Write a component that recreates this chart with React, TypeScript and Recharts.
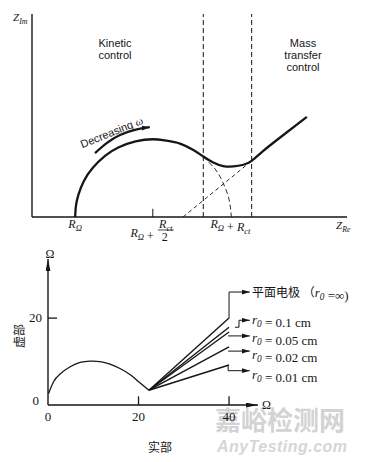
import { LineChart, Line, XAxis, YAxis, ReferenceLine } from "recharts";

// ---- upper plot: Nyquist plot of a Randles cell (arbitrary units)
const kineticCurve = [
  { x: 10, y: 0 }, { x: 10.2, y: 2.7 }, { x: 10.8, y: 5.3 }, { x: 12, y: 8.3 },
  { x: 14, y: 11.3 }, { x: 17, y: 14.2 }, { x: 20, y: 16.1 }, { x: 24, y: 17.5 },
  { x: 28, y: 18 }, { x: 31, y: 17.7 }, { x: 34.3, y: 17.0 }, { x: 37.4, y: 15.5 },
  { x: 39.7, y: 14.0 }, { x: 42, y: 12.6 }, { x: 44.3, y: 11.8 }, { x: 46.7, y: 11.7 },
  { x: 49, y: 12.1 }, { x: 50.9, y: 13.0 }, { x: 53.6, y: 15.3 }, { x: 57.5, y: 18.4 },
  { x: 63.7, y: 23.2 },
];
const circleTail = [
  { x: 39.7, y: 14.0 }, { x: 42, y: 11.6 }, { x: 43.6, y: 9.3 }, { x: 45.5, y: 4.7 }, { x: 46.2, y: 0 },
];
const warburgGuide = [{ x: 35, y: 0 }, { x: 50.9, y: 13.0 }];
const omegaArrow = [
  { x: 14.6, y: 14.8 }, { x: 17.3, y: 17.1 }, { x: 20.4, y: 19.0 }, { x: 24.3, y: 20.3 }, { x: 27.3, y: 20.8 },
];
const regionBounds = [39.7, 50.9];
const R_OHM = 10;
const R_CT = 36;
const topTicks = [R_OHM, R_OHM + R_CT / 2, R_OHM + R_CT];

// ---- lower plot: effect of electrode radius
const arcCurve = [
  { x: 0.1, y: 2.6 }, { x: 1.2, y: 5.3 }, { x: 2.6, y: 7.1 }, { x: 4.9, y: 8.8 },
  { x: 7.1, y: 9.8 }, { x: 9.3, y: 10.1 }, { x: 11.5, y: 10.0 }, { x: 13.7, y: 9.4 },
  { x: 15.9, y: 8.4 }, { x: 18.1, y: 7.0 }, { x: 20.3, y: 5.1 }, { x: 22.3, y: 3.4 },
];
const cusp = { x: 22.3, y: 3.4 };
const radii = ["∞", "0.1 cm", "0.05 cm", "0.02 cm", "0.01 cm"];
const lineEnds = [20.0, 17.9, 16.8, 13.4, 9.2];
const lowerTicks = [0, 20, 40];

const serif = "'Liberation Serif', 'DejaVu Serif', serif";
const sans = "'Liberation Sans', Arial, sans-serif";
const cjk = "'Noto Sans CJK SC', sans-serif";
const ink = "#161616";

const Defs = () => (
  <defs>
    <marker id="headS" viewBox="0 0 10 6" refX="10" refY="3" markerWidth="8" markerHeight="5"
      markerUnits="userSpaceOnUse" orient="auto">
      <path d="M0,0 L10,3 L0,6 z" fill={ink} />
    </marker>
    <marker id="headL" viewBox="0 0 10 4" refX="10" refY="2" markerWidth="12" markerHeight="5"
      markerUnits="userSpaceOnUse" orient="auto">
      <path d="M0,0 L10,2 L0,4 z" fill={ink} />
    </marker>
  </defs>
);

const Sub = ({ base, sub, size = 12 }: { base: string; sub: string; size?: number }) => (
  <>
    <tspan fontStyle="italic">{base}</tspan>
    <tspan fontStyle="italic" fontSize={size * 0.72} dy={3}>{sub}</tspan>
    <tspan dy={-3}></tspan>
  </>
);

function TopTick({ x, y, payload }: any) {
  const v = payload.value;
  const ty = y + 11;
  if (v === R_OHM)
    return (
      <text x={x} y={ty} textAnchor="middle" fontFamily={serif} fontSize={12} fill={ink}>
        <Sub base="R" sub="Ω" />
      </text>
    );
  if (v === R_OHM + R_CT)
    return (
      <text x={x} y={ty} textAnchor="middle" fontFamily={serif} fontSize={12} fill={ink}>
        <Sub base="R" sub="Ω" /> + <Sub base="R" sub="ct" />
      </text>
    );
  return (
    <g fontFamily={serif} fontSize={12} fill={ink}>
      <text x={x + 1} y={ty + 9} textAnchor="end">
        <Sub base="R" sub="Ω" /> +
      </text>
      <text x={x + 13} y={ty} textAnchor="middle">
        <Sub base="R" sub="ct" />
      </text>
      <line x1={x + 5} x2={x + 21} y1={ty + 2} y2={ty + 2} stroke={ink} strokeWidth={0.8} />
      <text x={x + 12} y={ty + 13} textAnchor="middle">2</text>
    </g>
  );
}

function LowerXTick({ x, y, payload }: any) {
  return (
    <text x={x} y={y + 16} textAnchor="middle" fontFamily={serif} fontSize={13} fill={ink}>
      {payload.value}
    </text>
  );
}

function LowerYTick({ x, y, payload }: any) {
  const v = payload.value;
  return (
    <text x={x - (v === 0 ? 9 : 6)} y={y + (v === 0 ? 0 : 4)} textAnchor="end"
      fontFamily={serif} fontSize={13} fill={ink}>
      {v}
    </text>
  );
}

function UpperPlot() {
  return (
    <LineChart width={365} height={250} margin={{ top: 14, right: 18, bottom: 32, left: 31 }}>
      <Defs />
      <XAxis type="number" dataKey="x" domain={[0, 73]} ticks={topTicks} tick={<TopTick />}
        tickLine={false} tickSize={0} tickMargin={0} height={1}
        axisLine={{ stroke: ink, strokeWidth: 1.4 }} allowDataOverflow />
      <YAxis type="number" dataKey="y" domain={[0, 47]} tick={false} tickLine={false} width={1}
        axisLine={{ stroke: ink, strokeWidth: 1.4 }} allowDataOverflow />
      {regionBounds.map((b) => (
        <ReferenceLine key={b} x={b} stroke={ink} strokeWidth={1} strokeDasharray="5 3" />
      ))}
      <ReferenceLine segment={[{ x: R_OHM + R_CT / 2, y: 0 }, { x: R_OHM + R_CT / 2, y: 1.9 }]}
        stroke={ink} strokeWidth={1} />
      <Line data={warburgGuide} dataKey="y" type="linear" stroke={ink} strokeWidth={0.9}
        strokeDasharray="4 3" dot={false} isAnimationActive={false} />
      <Line data={circleTail} dataKey="y" type="natural" stroke={ink} strokeWidth={0.9}
        strokeDasharray="5 3" dot={false} isAnimationActive={false} />
      <Line data={kineticCurve} dataKey="y" type="natural" stroke={ink} strokeWidth={2.3}
        dot={false} isAnimationActive={false} />
      <Line data={omegaArrow} dataKey="y" type="natural" stroke={ink} strokeWidth={2.2}
        dot={false} markerEnd="url(#headS)" isAnimationActive={false} />
    </LineChart>
  );
}

function LowerPlot() {
  return (
    <LineChart width={365} height={214} margin={{ top: 11, right: 107, bottom: 56, left: 47 }}>
      <Defs />
      <XAxis type="number" dataKey="x" domain={[0, 46.4]} ticks={lowerTicks} tick={<LowerXTick />}
        tickLine={false} tickSize={0} tickMargin={0} height={1} axisLine={false} allowDataOverflow />
      <YAxis type="number" dataKey="y" domain={[0, 33.6]} ticks={[0, 20]} tick={<LowerYTick />}
        tickLine={false} tickSize={0} tickMargin={0} width={1} axisLine={false} allowDataOverflow />
      <ReferenceLine segment={[{ x: 0, y: 0 }, { x: 46.4, y: 0 }]} stroke={ink} strokeWidth={1.4}
        markerEnd="url(#headL)" />
      <ReferenceLine segment={[{ x: 0, y: 0 }, { x: 0, y: 33.6 }]} stroke={ink} strokeWidth={1.4}
        markerEnd="url(#headL)" />
      <ReferenceLine segment={[{ x: 0, y: 20 }, { x: 2, y: 20 }]} stroke={ink} strokeWidth={1.3} />
      <ReferenceLine segment={[{ x: 20, y: 0 }, { x: 20, y: 2 }]} stroke={ink} strokeWidth={1.3} />
      <ReferenceLine segment={[{ x: 40, y: 0 }, { x: 40, y: 2 }]} stroke={ink} strokeWidth={1.3} />
      <Line data={arcCurve} dataKey="y" type="natural" stroke={ink} strokeWidth={1.3}
        dot={false} isAnimationActive={false} />
      {lineEnds.map((v, i) => (
        <Line key={radii[i]} data={[cusp, { x: 40, y: v }]} dataKey="y" type="linear" stroke={ink}
          strokeWidth={1.4} dot={false} isAnimationActive={false} />
      ))}
      {/* leader arrows to the labels */}
      <ReferenceLine segment={[{ x: 40, y: 20 }, { x: 40, y: 26 }]} stroke={ink} strokeWidth={1} />
      <ReferenceLine segment={[{ x: 40, y: 26 }, { x: 44.6, y: 26 }]} stroke={ink} strokeWidth={1}
        markerEnd="url(#headS)" />
      <ReferenceLine segment={[{ x: 41.3, y: 17.9 }, { x: 42.2, y: 17.9 }]} stroke={ink} strokeWidth={1} />
      <ReferenceLine segment={[{ x: 42.2, y: 17.9 }, { x: 42.2, y: 19.5 }]} stroke={ink} strokeWidth={1} />
      <ReferenceLine segment={[{ x: 42.2, y: 19.5 }, { x: 44.6, y: 19.5 }]} stroke={ink} strokeWidth={1}
        markerEnd="url(#headS)" />
      <ReferenceLine segment={[{ x: 39.8, y: 15.9 }, { x: 44.6, y: 15.9 }]} stroke={ink} strokeWidth={1}
        markerEnd="url(#headS)" />
      <ReferenceLine segment={[{ x: 39.8, y: 12.4 }, { x: 44.6, y: 12.4 }]} stroke={ink} strokeWidth={1}
        markerEnd="url(#headS)" />
      <ReferenceLine segment={[{ x: 39.8, y: 9.2 }, { x: 39.8, y: 7.9 }]} stroke={ink} strokeWidth={1} />
      <ReferenceLine segment={[{ x: 39.8, y: 7.9 }, { x: 44.6, y: 7.9 }]} stroke={ink} strokeWidth={1}
        markerEnd="url(#headS)" />
    </LineChart>
  );
}

const labelRows = [296.5, 323.5, 342, 359, 379];

export default function App() {
  return (
    <div style={{ position: "absolute", left: 0, top: 0, width: 365, height: 462, background: "#fff" }}>
      <svg width={365} height={462} style={{ position: "absolute", left: 0, top: 0 }}>
        <text x={215} y={430} fontFamily={cjk} fontWeight={700} fontSize={26} fill="#d3d3d3">
          嘉峪检测网
        </text>
        <text x={217} y={452} fontFamily={sans} fontStyle="italic" fontWeight={700} fontSize={16}
          fill="#d6d6d6" textLength={130}>
          AnyTesting.com
        </text>
      </svg>
      <div style={{ position: "absolute", left: 0, top: 0 }}>
        <UpperPlot />
      </div>
      <div style={{ position: "absolute", left: 0, top: 248 }}>
        <LowerPlot />
      </div>
      <svg width={365} height={462} style={{ position: "absolute", left: 0, top: 0, pointerEvents: "none" }}>
        <g fill={ink}>
          <text x={13} y={21} fontFamily={serif} fontSize={11}>
            <Sub base="Z" sub="Im" size={11} />
          </text>
          <text x={336} y={229} fontFamily={serif} fontSize={11}>
            <Sub base="Z" sub="Re" size={11} />
          </text>
          <g fontFamily={sans} fontSize={11} textAnchor="middle">
            <text x={115} y={47}>Kinetic</text>
            <text x={115} y={59}>control</text>
            <text x={303} y={47}>Mass</text>
            <text x={303} y={59}>transfer</text>
            <text x={303} y={71}>control</text>
          </g>
          <text x={112} y={136} fontFamily={sans} fontSize={11} textAnchor="middle"
            transform="rotate(-22 112 133)">
            Decreasing <tspan fontFamily={serif} fontStyle="italic">ω</tspan>
          </text>

          <text x={50} y={258} fontFamily={serif} fontSize={12} textAnchor="middle">Ω</text>
          <text x={262} y={409} fontFamily={serif} fontSize={12}>Ω</text>
          <text x={20} y={340} fontFamily={cjk} fontSize={12} textAnchor="middle"
            transform="rotate(-90 20 336)">虚部</text>
          <text x={160} y={452} fontFamily={cjk} fontSize={12} textAnchor="middle">实部</text>

          {radii.map((r, i) => (
            <text key={r} x={252} y={labelRows[i]} fontFamily={serif} fontSize={13}>
              {i === 0 ? <tspan fontFamily={cjk} fontSize={12}>平面电极 （</tspan> : null}
              <Sub base="r" sub="0" size={13} />
              {i === 0 ? " =∞)" : ` = ${r}`}
            </text>
          ))}
        </g>
      </svg>
    </div>
  );
}
